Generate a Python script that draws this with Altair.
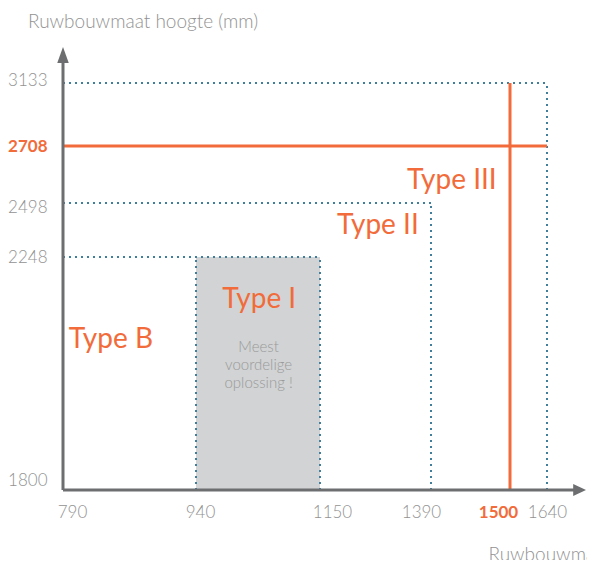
import altair as alt
import pandas as pd

# ---- data ----
x_ticks = [790, 940, 1150, 1390, 1500, 1640]
y_ticks = [1800, 2248, 2498, 2708, 3133]
type_names = ["Type I", "Type II", "Type III"]
type_widths = [1150, 1390, 1640]
type_heights = [2248, 2498, 3133]
type1_min_width = 940
min_width = 790
min_height = 1800
sel_width = 1500
sel_height = 2708

label_texts = ["Type B", "Type I", "Type II", "Type III"]
label_x = [844, 1047, 1275, 1419]
label_y = [2073, 2150, 2354, 2550]
note_text = "Meest\nvoordelige\noplossing !"
note_x = 1046
note_y = 2066
axis_end_x = 1770
axis_end_y = 3231

ORANGE = "#f26b3a"
BLUE = "#3f7f9c"
GREY_FILL = "#d1d3d4"
AXIS = "#6d6e70"
LABEL = "#929292"
FONT = "Lato"

xs = alt.Scale(domain=[790, 940, 1150, 1390, 1500, 1640, 1800],
               range=[0, 133, 257, 368, 447, 484, 532], nice=False, zero=False)
ys = alt.Scale(domain=[1800, 2248, 2498, 2708, 3133, 3250],
               range=[450, 217, 163, 106, 43, 0], nice=False, zero=False)

xaxis = alt.Axis(values=x_ticks, format="d", grid=False, domain=False, ticks=False, tickSize=0,
                 labelPadding=14, labelFont=FONT, labelFontSize=17,
                 labelColor=alt.ExprRef(f"datum.value == {sel_width} ? '{ORANGE}' : '{LABEL}'"),
                 labelFontWeight=alt.ExprRef(f"datum.value == {sel_width} ? 'bold' : 300"),
                 labelOffset=alt.ExprRef("datum.value == 790 ? 9 : datum.value == 940 ? 4 : datum.value == 1150 ? 12 : datum.value == 1390 ? -10 : datum.value == 1500 ? -12 : 0"),
                 labelOverlap=False, labelFlush=False, labelBound=False,
                 title="Ruwbouwmaat breedte (mm)", titleX=425, titleY=70,
                 titleAlign="left", titleBaseline="alphabetic", titleFont=FONT,
                 titleFontSize=19, titleFontWeight=300, titleColor=LABEL)
yaxis = alt.Axis(values=y_ticks, format="d", grid=False, domain=False, ticks=False, tickSize=0,
                 labelPadding=16, labelFont=FONT, labelFontSize=17,
                 labelColor=alt.ExprRef(f"datum.value == {sel_height} ? '{ORANGE}' : '{LABEL}'"),
                 labelFontWeight=alt.ExprRef(f"datum.value == {sel_height} ? 'bold' : 300"),
                 labelOffset=alt.ExprRef("datum.value == 3133 ? -3 : datum.value == 2498 ? 4 : datum.value == 1800 ? -10 : 0"),
                 labelOverlap=False, labelFlush=False, labelBound=False,
                 title=None)


def X(f):
    return alt.X(f, type="quantitative", scale=xs, axis=xaxis)


def Y(f):
    return alt.Y(f, type="quantitative", scale=ys, axis=yaxis)


# gray rect for Type I
rect_df = pd.DataFrame({"x": [type1_min_width], "x2": [type_widths[0]],
                        "y": [min_height], "y2": [type_heights[0]]})
rect = alt.Chart(rect_df).mark_rect(color=GREY_FILL).encode(
    x=X("x"), x2="x2", y=Y("y"), y2="y2")

# dotted outlines
h_df = pd.DataFrame({"x": [min_width] * 3, "x2": type_widths, "y": type_heights})
v_df = pd.DataFrame({"x": type_widths + [type1_min_width],
                     "y": [min_height] * 4, "y2": type_heights + [type_heights[0]]})
dot_style = dict(color=BLUE, strokeWidth=2, strokeDash=[2, 4])
hdots = alt.Chart(h_df).mark_rule(**dot_style).encode(x=X("x"), x2="x2", y=Y("y"))
vdots = alt.Chart(v_df).mark_rule(**dot_style).encode(x=X("x"), y=Y("y"), y2="y2")

# orange selection lines
oh_df = pd.DataFrame({"x": [min_width], "x2": [type_widths[-1]], "y": [sel_height]})
ov_df = pd.DataFrame({"x": [sel_width], "y": [min_height], "y2": [type_heights[-1]]})
oh = alt.Chart(oh_df).mark_rule(color=ORANGE, strokeWidth=3).encode(x=X("x"), x2="x2", y=Y("y"))
ov = alt.Chart(ov_df).mark_rule(color=ORANGE, strokeWidth=3).encode(x=X("x"), y=Y("y"), y2="y2")

# axes lines with arrows
ax_h = alt.Chart(pd.DataFrame({"x": [min_width], "x2": [axis_end_x - 20], "y": [min_height]})).mark_rule(
    color=AXIS, strokeWidth=3).encode(x=X("x"), x2="x2", y=Y("y"))
ax_v = alt.Chart(pd.DataFrame({"x": [min_width], "y": [min_height], "y2": [axis_end_y - 30]})).mark_rule(
    color=AXIS, strokeWidth=3).encode(x=X("x"), y=Y("y"), y2="y2")
arrow_up = alt.Chart(pd.DataFrame({"x": [min_width], "y": [axis_end_y]})).mark_point(
    shape="M0,0L0.36,1L-0.36,1Z", size=1024, filled=True, color=AXIS, opacity=1, strokeWidth=0).encode(
    x=X("x"), y=Y("y"))
arrow_right = alt.Chart(pd.DataFrame({"x": [axis_end_x], "y": [min_height]})).mark_point(
    shape="M0,0L-0.8,0.38L-0.8,-0.38Z", size=1024, filled=True, color=AXIS, opacity=1, strokeWidth=0).encode(
    x=X("x"), y=Y("y"))

# type labels
lab_df = pd.DataFrame({"t": label_texts, "x": label_x, "y": label_y})
labels = alt.Chart(lab_df).mark_text(color=ORANGE, font=FONT, fontSize=28, align="center",
                                     baseline="alphabetic").encode(x=X("x"), y=Y("y"), text="t")

note_df = pd.DataFrame({"t": [note_text], "x": [note_x], "y": [note_y]})
note = alt.Chart(note_df).mark_text(color="#9a9a9a", font=FONT, fontSize=15, fontWeight=300,
                                    align="center", baseline="alphabetic", lineBreak="\n",
                                    lineHeight=18).encode(x=X("x"), y=Y("y"), text="t")

chart = alt.layer(rect, hdots, vdots, oh, ov, ax_h, ax_v, arrow_up, arrow_right, labels, note).properties(
    width=524, height=450, autosize="none",
    padding={"left": 55, "top": 32, "right": 0, "bottom": 70},
    title=alt.TitleParams("Ruwbouwmaat hoogte (mm)", anchor="start", frame="group", dx=-35,
                          dy=17, offset=10, baseline="alphabetic", font=FONT, fontSize=19,
                          fontWeight=300, color=LABEL),
).configure_view(stroke=None)

chart.save("out.html", embed_options={"renderer": "svg", "actions": False})
